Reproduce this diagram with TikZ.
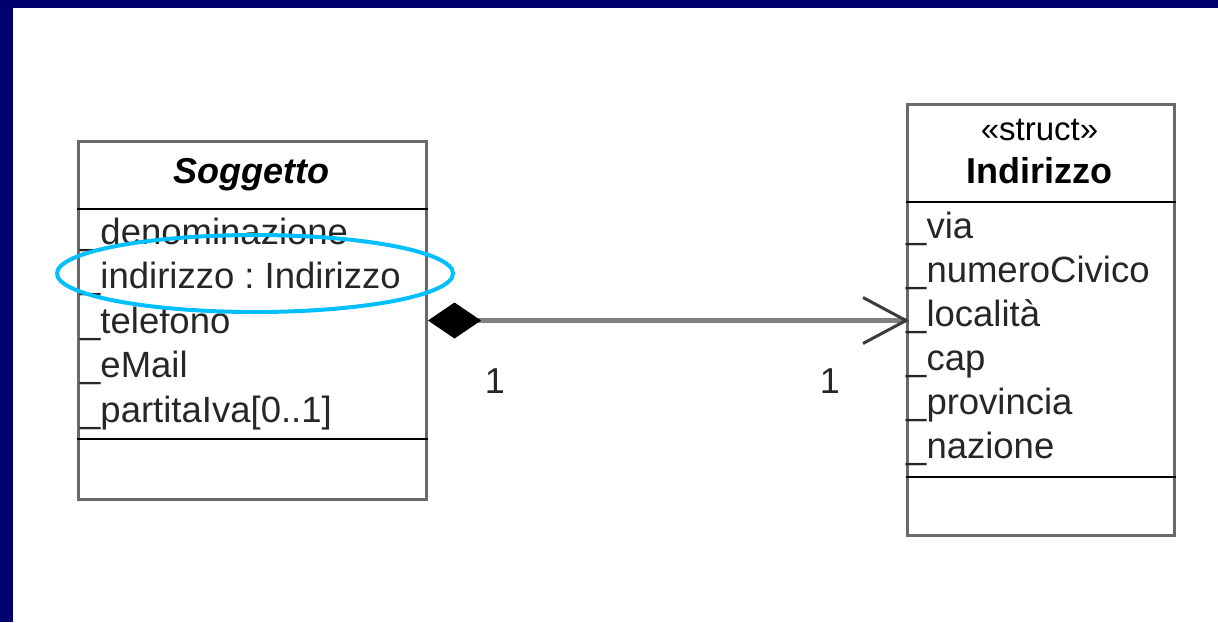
\documentclass[tikz,border=0pt]{standalone}
\usepackage{fontspec}
\setmainfont{Liberation Sans}
\frenchspacing
\usetikzlibrary{arrows.meta,shapes.geometric}
\definecolor{framenavy}{RGB}{0,0,112}
\definecolor{edgegray}{RGB}{105,105,105}
\definecolor{linkgray}{RGB}{128,128,128}
\definecolor{headgray}{RGB}{60,60,60}
\definecolor{marker}{RGB}{0,191,255}
\begin{document}
\begin{tikzpicture}[x=1pt,y=-1pt,
  classbox/.style={draw=edgegray, line width=3pt, inner sep=0pt, anchor=north west},
  divider/.style={draw=black, line width=2.5pt},
  attr/.style={anchor=base west, inner sep=0pt, text=black!85, font=\fontsize{36.5}{40}\selectfont},
  classname/.style={anchor=base, inner sep=0pt, font=\fontsize{36}{40}\selectfont\bfseries},
  stereo/.style={anchor=base, inner sep=0pt, font=\fontsize{33}{36}\selectfont},
  mult/.style={anchor=base, inner sep=0pt, text=black!85, font=\fontsize{36}{40}\selectfont},
  link/.style={draw=linkgray, line width=5pt},
  openhead/.style={draw=headgray, line width=3pt},
  highlight/.style={draw=marker, line width=4pt, ellipse, inner sep=0pt}
]
\useasboundingbox (0,0) rectangle (1218,622);

% slide frame
\fill[framenavy] (0,0) rectangle (1218,8);
\fill[framenavy] (0,0) rectangle (13,622);

% class Soggetto
\node[classbox, minimum width=348pt, minimum height=358pt] (sog) at (77,140) {};
\draw[divider] ([yshift=-69pt]sog.north west) -- ([yshift=-69pt]sog.north east);
\draw[divider] ([yshift=-299pt]sog.north west) -- ([yshift=-299pt]sog.north east);
\node[classname, font=\fontsize{36}{40}\selectfont\bfseries\itshape] (sogname) at (251,183) {Soggetto};
\node[attr] (s1) at (80,244) {\_denominazione};
\node[attr] (s2) at (80,288) {\_indirizzo : Indirizzo};
\node[attr] (s3) at (80,333) {\_telefono};
\node[attr] (s4) at (80,377) {\_eMail};
\node[attr] (s5) at (80,422) {\_partitaIva[0..1]};

% class Indirizzo
\node[classbox, minimum width=267pt, minimum height=431pt] (ind) at (906,103) {};
\draw[divider] ([yshift=-99pt]ind.north west) -- ([yshift=-99pt]ind.north east);
\draw[divider] ([yshift=-374pt]ind.north west) -- ([yshift=-374pt]ind.north east);
\node[stereo] (indstereo) at (1039.5,140) {«struct»};
\node[classname] (indname) at (1039.5,183) {Indirizzo};
\node[attr] (i1) at (906,238) {\_via};
\node[attr] (i2) at (906,282) {\_numeroCivico};
\node[attr] (i3) at (906,326) {\_località};
\node[attr] (i4) at (906,370) {\_cap};
\node[attr] (i5) at (906,414) {\_provincia};
\node[attr] (i6) at (906,458) {\_nazione};

% composition Soggetto -> Indirizzo
\coordinate (tip) at (sog.east -| ind.west);
\draw[link, {Diamond[length=53pt,width=36pt,line width=1pt,color=black,fill=black]}-] (sog.east) -- (tip);
\draw[openhead] ([xshift=-43pt,yshift=23pt]tip) -- (tip) -- ([xshift=-43pt,yshift=-23pt]tip);
\node[mult] (m1) at (495,393) {1};
\node[mult] (m2) at (830,393) {1};

% highlighted attribute
\node[highlight, minimum width=396pt, minimum height=77pt] (focus) at (255,273.5) {};
\end{tikzpicture}
\end{document}
